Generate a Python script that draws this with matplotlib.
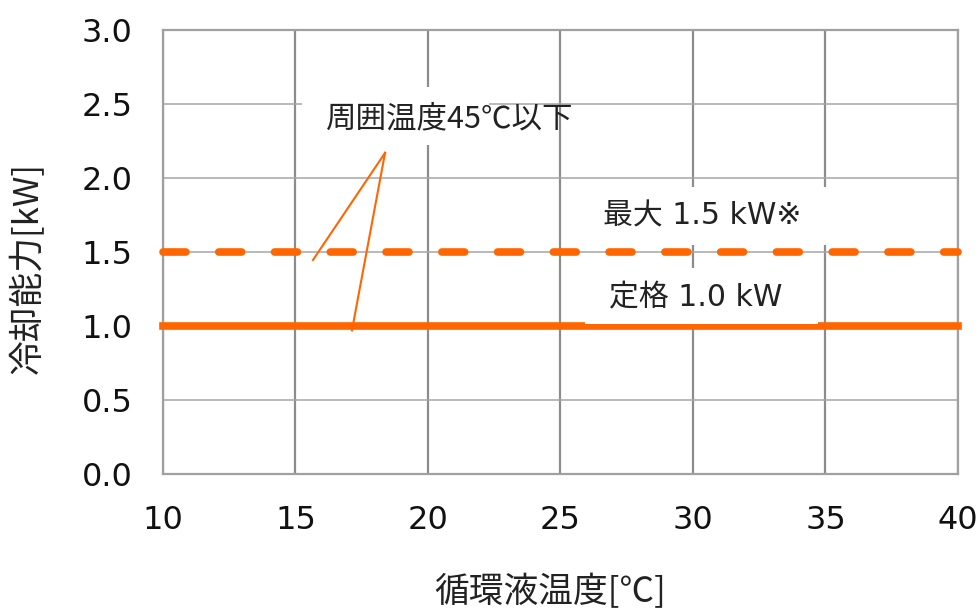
import matplotlib
matplotlib.use('Agg')
import matplotlib.pyplot as plt
from matplotlib.patches import Rectangle

# data
temp = [10, 40]
rated = [1.0, 1.0]       # 定格
maximum = [1.5, 1.5]     # 最大
xticks = [10, 15, 20, 25, 30, 35, 40]
yticks = [0.0, 0.5, 1.0, 1.5, 2.0, 2.5, 3.0]

# annotation leader lines (apex -> two line ends)
lead_x1 = [18.38, 15.66]
lead_y1 = [2.17, 1.446]
lead_x2 = [18.38, 17.13]
lead_y2 = [2.17, 0.97]

orange = '#ff6600'
jp = ['Noto Sans CJK JP', 'DejaVu Sans']
num = ['DejaVu Sans', 'Noto Sans CJK JP']

fig = plt.figure(figsize=(9.79, 6.11), dpi=100)
ax = fig.add_axes([0.1665, 0.2242, 0.812, 0.7267])

ax.set_xlim(10, 40)
ax.set_ylim(0, 3.0)
ax.set_xticks(xticks)
ax.set_yticks(yticks)
ax.set_yticklabels(['%.1f' % v for v in yticks])
ax.tick_params(length=0, labelsize=23, pad=22, colors='#111111')
for lab in ax.get_xticklabels() + ax.get_yticklabels():
    lab.set_family(num)

ax.set_axisbelow(True)
ax.xaxis.grid(True, color='#8c8c8c', linewidth=1.6)
ax.yaxis.grid(True, color='#a6a6a6', linewidth=1.1)
for s in ax.spines.values():
    s.set_color('#a0a0a0')
    s.set_linewidth(1.6)

ax.plot(temp, maximum, color=orange, linewidth=5.5, linestyle=(0, (3, 4.3)),
        dash_capstyle='round', zorder=3, clip_on=False)
ax.plot(temp, rated, color=orange, linewidth=5.5, zorder=3, clip_on=False)

ax.plot(lead_x1, lead_y1, color=orange, linewidth=1.5, zorder=3)
ax.plot(lead_x2, lead_y2, color=orange, linewidth=1.5, zorder=3)

# white backgrounds behind labels
ax.add_patch(Rectangle((15.25, 2.223), 7.07, 0.392, facecolor='white',
                       edgecolor='none', zorder=2.5))
ax.add_patch(Rectangle((25.43, 1.547), 9.93, 0.392, facecolor='white',
                       edgecolor='none', zorder=2.5))
ax.add_patch(Rectangle((25.92, 1.012), 8.8, 0.38, facecolor='white',
                       edgecolor='none', zorder=3.5))

ax.text(20.83, 2.40, '周囲温度45℃以下', fontsize=22, family=jp,
        ha='center', va='center', color='#222222', zorder=4)
ax.text(30.34, 1.743, '最大 1.5 kW※', fontsize=21.5, family=num,
        ha='center', va='center', color='#222222', zorder=4)
ax.text(30.11, 1.19, '定格 1.0 kW', fontsize=21.5, family=num,
        ha='center', va='center', color='#222222', zorder=4)

ax.set_xlabel('循環液温度[℃]', fontsize=25, family=jp, color='#222222')
ax.set_ylabel('冷却能力[kW]', fontsize=25, family=jp, color='#222222')
ax.xaxis.set_label_coords(0.487, -0.266)
ax.yaxis.set_label_coords(-0.170, 0.464)
ax.xaxis.label.set_va('center')
ax.yaxis.label.set_va('center')

fig.savefig('out.png', dpi=100)
